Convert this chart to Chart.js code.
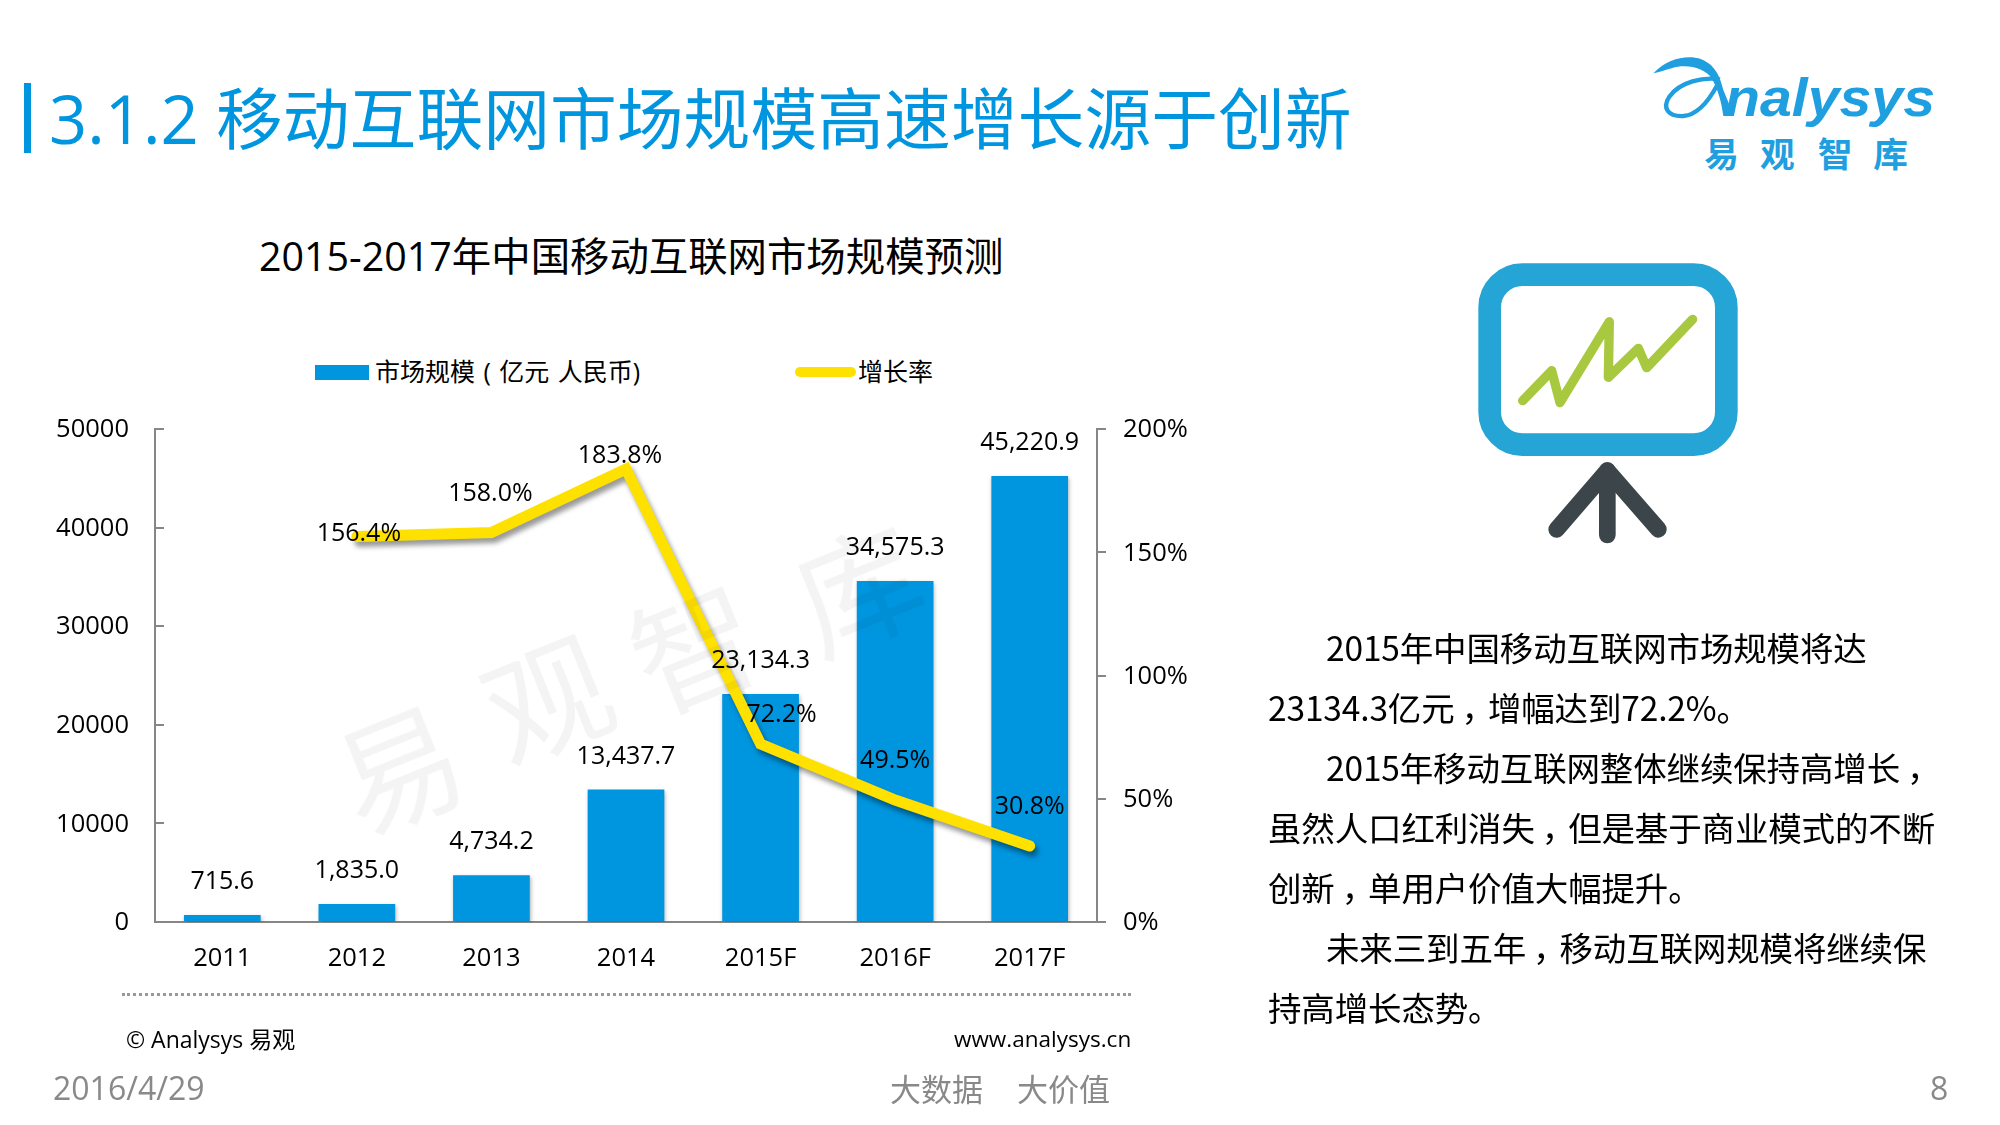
<!DOCTYPE html>
<html lang="zh">
<head>
<meta charset="utf-8">
<title>移动互联网市场规模</title>
<script src="https://cdn.jsdelivr.net/npm/chart.js@4"></script>
<style>
  html, body { margin: 0; padding: 0; background: #fff; }
  body { position: relative; width: 2000px; height: 1125px; overflow: hidden;
         font-family: "Open Sans", "Noto Sans CJK SC", sans-serif; color: #000; }
  canvas { position: absolute; left: 0; top: 0; }
  .t { position: absolute; white-space: nowrap; transform: translateY(-50%); }
  .body-line { font-size: 33.5px; letter-spacing: -0.15px; font-family: "Noto Sans CJK SC", sans-serif; }
  .cm { position: relative; left: 7px; }
  .mark { position: absolute; font-size: 124px; line-height: 1; color: rgba(0,0,0,0.045);
          font-family: "Noto Sans CJK SC", sans-serif; transform: translate(-50%,-50%) rotate(-22deg); }
  .grey { color: #898989; }
  svg { position: absolute; }
</style>
</head>
<body>
<div style="position:absolute;left:24px;top:83px;width:7px;height:70px;background:#0095df"></div>
<div class="t" style="left:49px;top:115px;font-size:66.8px;font-weight:400;color:#0095df">3.1.2 移动互联网市场规模高速增长源于创新</div>

<svg style="left:1640px;top:40px" width="320" height="150" viewBox="0 0 960 450">
  <path fill="#1f9fe0" d="M40,100 C80,55 140,45 175,55 C225,70 240,110 250,150 L282,228 L250,228 C245,190 235,150 215,115 C195,85 140,70 95,85 C75,90 60,97 40,100 Z"/>
  <path fill="none" stroke="#1f9fe0" stroke-width="13" d="M240,118 C190,110 120,125 88,170 C65,205 85,230 130,228 C170,225 205,185 232,135"/>
  <text x="255" y="228" font-family="Liberation Sans" font-weight="bold" font-style="italic" font-size="160" fill="#1f9fe0" textLength="630" lengthAdjust="spacingAndGlyphs">nalysys</text>
  <g font-family="Noto Sans CJK SC" font-weight="bold" font-size="104" fill="#1f9fe0" text-anchor="middle">
    <text x="245" y="382">易</text><text x="412" y="382">观</text><text x="585" y="382">智</text><text x="752" y="382">库</text>
  </g>
</svg>

<div class="t" style="left:259px;top:254px;font-size:39.4px">2015-2017年中国移动互联网市场规模预测</div>

<div style="position:absolute;left:315px;top:365px;width:54px;height:15px;background:#0095df"></div>
<div class="t" id="legendBar" style="left:375px;top:370px;font-size:25px;word-spacing:2px"></div>
<div style="position:absolute;left:795px;top:367px;width:61px;height:10px;border-radius:5px;background:#ffe100"></div>
<div class="t" id="legendLine" style="left:858px;top:370px;font-size:25px"></div>

<canvas id="marketChart" width="2000" height="1125"></canvas>

<span class="mark" style="left:397px;top:763px">易</span>
<span class="mark" style="left:545px;top:693px">观</span>
<span class="mark" style="left:692px;top:642px">智</span>
<span class="mark" style="left:856px;top:583px">库</span>

<div style="position:absolute;left:122px;top:993px;width:1009px;border-top:3px dotted #999"></div>
<div class="t" style="left:126px;top:1038px;font-size:23px">© Analysys 易观</div>
<div class="t" style="left:954px;top:1038px;font-size:22.5px">www.analysys.cn</div>
<div class="t grey" style="left:53px;top:1087px;font-size:32px">2016/4/29</div>
<div class="t grey" style="left:890px;top:1087px;font-size:31px;font-family:'Noto Sans CJK SC'">大数据</div>
<div class="t grey" style="left:1017px;top:1087px;font-size:31px;font-family:'Noto Sans CJK SC'">大价值</div>
<div class="t grey" style="left:1935px;top:1087px;font-size:32px;margin-left:-5px">8</div>

<svg style="left:1400px;top:240px" width="400" height="320" viewBox="0 0 1200 960">
  <rect x="269" y="104" width="710" height="510" rx="98" fill="none" stroke="#25a4d6" stroke-width="68"/>
  <polyline points="368,482 455,392 480,488 628,245 625,412 715,325 740,383 878,238" fill="none" stroke="#a8c93f" stroke-width="28" stroke-linecap="round" stroke-linejoin="round"/>
  <polyline points="470,868 622,692 775,868" fill="none" stroke="#3c4549" stroke-width="50" stroke-linecap="round" stroke-linejoin="round"/>
  <line x1="622" y1="692" x2="622" y2="885" stroke="#3c4549" stroke-width="50" stroke-linecap="round"/>
</svg>

<div class="t body-line" style="left:1326px;top:646px">2015年中国移动互联网市场规模将达</div>
<div class="t body-line" style="left:1268px;top:706px">23134.3亿元<span class="cm">，</span>增幅达到72.2%。</div>
<div class="t body-line" style="left:1326px;top:766px">2015年移动互联网整体继续保持高增长<span class="cm">，</span></div>
<div class="t body-line" style="left:1268px;top:826px">虽然人口红利消失<span class="cm">，</span>但是基于商业模式的不断</div>
<div class="t body-line" style="left:1268px;top:886px">创新<span class="cm">，</span>单用户价值大幅提升。</div>
<div class="t body-line" style="left:1326px;top:946px">未来三到五年<span class="cm">，</span>移动互联网规模将继续保</div>
<div class="t body-line" style="left:1268px;top:1006px">持高增长态势。</div>

<script>
const categories = ['2011', '2012', '2013', '2014', '2015F', '2016F', '2017F'];
const marketSize = [715.6, 1835.0, 4734.2, 13437.7, 23134.3, 34575.3, 45220.9];
const growthRate = [null, 156.4, 158.0, 183.8, 72.2, 49.5, 30.8];
const barName = '市场规模 ( 亿元 人民币)';
const lineName = '增长率';

const FONT = '"Open Sans", "Noto Sans CJK SC", sans-serif';
const AXIS_GREY = '#868686';
const BLUE = '#0095df';
const YELLOW = '#ffe100';

// how far off the point each growth label sits, the source places them by hand
const growthLabelShift = [null, [2, -3], [-1, -39], [-6, -13], [21, -29], [0, -39], [0, -39]];

document.getElementById('legendBar').textContent = barName;
document.getElementById('legendLine').textContent = lineName;

// soft shadow under bars and line
const shadowPlugin = {
    id: 'shadows',
    beforeDatasetDraw(chart, args) {
        const ctx = chart.ctx;
        ctx.save();
        if (args.meta.type === 'line') {
            ctx.shadowColor = 'rgba(0,0,0,0.4)';
            ctx.shadowBlur = 5;
            ctx.shadowOffsetX = 3;
            ctx.shadowOffsetY = 5;
        } else {
            ctx.shadowColor = 'rgba(0,0,0,0.3)';
            ctx.shadowBlur = 4;
            ctx.shadowOffsetX = 1;
            ctx.shadowOffsetY = 2;
        }
    },
    afterDatasetDraw(chart) {
        chart.ctx.restore();
    }
};

const valueLabelPlugin = {
    id: 'valueLabels',
    afterDatasetsDraw(chart) {
        const ctx = chart.ctx;
        ctx.save();
        ctx.font = '25px ' + FONT;
        ctx.fillStyle = '#000';
        ctx.textAlign = 'center';
        ctx.textBaseline = 'middle';

        chart.getDatasetMeta(0).data.forEach((bar, i) => {
            const text = marketSize[i].toLocaleString('en-US', { minimumFractionDigits: 1, maximumFractionDigits: 1 });
            ctx.fillText(text, bar.x, bar.y - 33);
        });
        chart.getDatasetMeta(1).data.forEach((pt, i) => {
            if (growthRate[i] === null) return;
            const shift = growthLabelShift[i];
            ctx.fillText(growthRate[i].toFixed(1) + '%', pt.x + shift[0], pt.y + shift[1]);
        });
        ctx.restore();
    }
};

const ctx = document.getElementById('marketChart').getContext('2d');
new Chart(ctx, {
    type: 'bar',
    data: {
        labels: categories,
        datasets: [
            {
                type: 'bar',
                label: barName,
                data: marketSize,
                backgroundColor: BLUE,
                barPercentage: 0.57,
                categoryPercentage: 1,
                yAxisID: 'y',
                order: 1
            },
            {
                type: 'line',
                label: lineName,
                data: growthRate,
                borderColor: YELLOW,
                borderWidth: 11,
                borderCapStyle: 'round',
                borderJoinStyle: 'miter',
                pointRadius: 0,
                tension: 0,
                yAxisID: 'y1',
                order: 0,
                clip: false
            }
        ]
    },
    options: {
        responsive: false,
        animation: false,
        layout: { padding: { top: 429 } },
        plugins: { legend: { display: false }, tooltip: { enabled: false } },
        scales: {
            x: {
                afterFit(scale) { scale.height = 203; },
                grid: { display: false },
                border: { color: AXIS_GREY, width: 2 },
                ticks: { color: '#000', padding: 13, font: { family: FONT, size: 25.5 }, maxRotation: 0 }
            },
            y: {
                position: 'left',
                min: 0,
                max: 50000,
                afterFit(scale) { scale.width = 155; },
                grid: { drawOnChartArea: false, color: AXIS_GREY, lineWidth: 2, tickLength: -9 },
                border: { color: AXIS_GREY, width: 2 },
                ticks: { stepSize: 10000, color: '#000', padding: 35, labelOffset: 1, font: { family: FONT, size: 25.5 }, callback: v => String(v) }
            },
            y1: {
                position: 'right',
                min: 0,
                max: 200,
                afterFit(scale) { scale.width = 903; },
                grid: { drawOnChartArea: false, color: AXIS_GREY, lineWidth: 2, tickLength: 9 },
                border: { color: AXIS_GREY, width: 2 },
                ticks: { stepSize: 50, color: '#000', padding: 17, labelOffset: 1, font: { family: FONT, size: 25.5 }, callback: v => v + '%' }
            }
        }
    },
    plugins: [shadowPlugin, valueLabelPlugin]
});
</script>
</body>
</html>
